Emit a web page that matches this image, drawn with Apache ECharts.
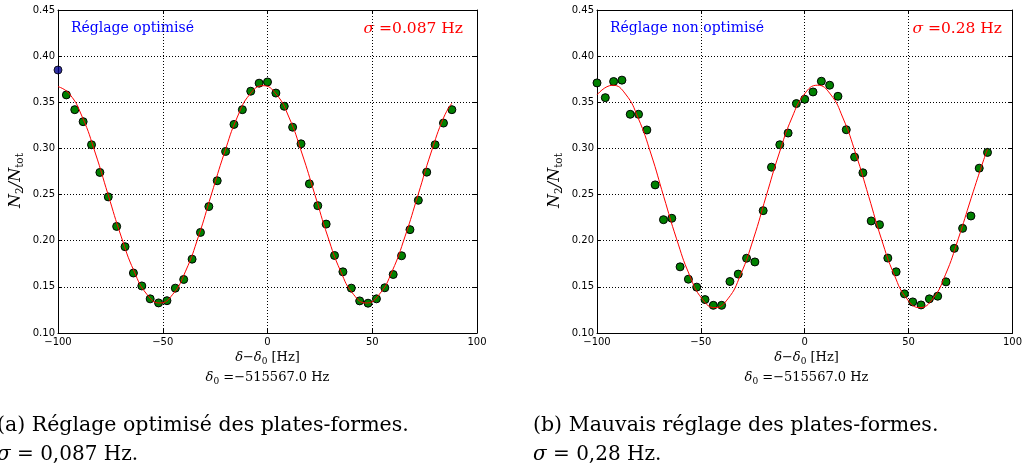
<!DOCTYPE html>
<html><head><meta charset="utf-8">
<script src="https://cdn.jsdelivr.net/npm/echarts@6/dist/echarts.min.js"></script>
<style>html,body{margin:0;padding:0;background:#fff}#c{width:1025px;height:467px}</style>
</head><body><div id="c"></div>
<script>
// ---- data ----
const leftX = [-96,-92,-88,-84,-80,-76,-72,-68,-64,-60,-56,-52,-48,-44,-40,-36,-32,-28,-24,-20,-16,-12,-8,-4,0,4,8,12,16,20,24,28,32,36,40,44,48,52,56,60,64,68,72,76,80,84,88];
const leftValues = [0.358,0.342,0.329,0.304,0.274,0.2475,0.2155,0.1935,0.165,0.151,0.137,0.1326,0.135,0.1486,0.158,0.180,0.209,0.237,0.265,0.2967,0.326,0.342,0.362,0.3707,0.372,0.360,0.3457,0.323,0.305,0.2616,0.238,0.218,0.184,0.1663,0.1486,0.1348,0.1323,0.137,0.149,0.1634,0.1837,0.212,0.2438,0.2743,0.304,0.3275,0.342];
const leftFirstPoint = [[-100, 0.385]];
const leftFitX = [-100,-94.5,-88.4,-82.2,-76.1,-69.9,-63.7,-57.6,-51.4,-45.2,-39.1,-32.9,-26.8,-20.6,-14.4,-8.3,-2.1,4.1,10.2,16.4,22.6,28.7,34.9,41.0,47.2,53.4,59.5,65.7,71.9,78.0,84.2,88];
const leftFitY = [0.367,0.359,0.334,0.295,0.250,0.205,0.167,0.142,0.1325,0.142,0.167,0.205,0.250,0.295,0.334,0.359,0.368,0.359,0.334,0.295,0.250,0.205,0.167,0.142,0.1325,0.142,0.167,0.205,0.250,0.295,0.334,0.349];

const rightX = [-100,-96,-92,-88,-84,-80,-76,-72,-68,-64,-60,-56,-52,-48,-44,-40,-36,-32,-28,-24,-20,-16,-12,-8,-4,0,4,8,12,16,20,24,28,32,36,40,44,48,52,56,60,64,68,72,76,80,84,88];
const rightValues = [0.371,0.355,0.3725,0.374,0.337,0.337,0.320,0.2605,0.2228,0.2243,0.1717,0.1583,0.1497,0.1362,0.130,0.130,0.1558,0.1638,0.181,0.177,0.2326,0.2797,0.304,0.3167,0.3486,0.3533,0.3612,0.3728,0.3685,0.3565,0.3203,0.2906,0.2736,0.2214,0.2174,0.1812,0.1663,0.1424,0.1337,0.1304,0.137,0.1399,0.1554,0.1917,0.2134,0.2268,0.2786,0.2957];
const rightFitX = [-100,-92.5,-86.3,-80.2,-74.0,-67.9,-61.7,-55.5,-49.4,-43.2,-37.0,-30.9,-24.7,-18.6,-12.4,-6.2,-0.1,6.1,12.3,18.4,24.6,30.8,36.9,43.1,49.2,55.4,61.6,67.7,73.9,80.1,86.2,88];
const rightFitY = [0.358,0.3685,0.359,0.333,0.294,0.248,0.202,0.163,0.137,0.1275,0.137,0.163,0.202,0.248,0.294,0.333,0.359,0.3685,0.359,0.333,0.294,0.248,0.202,0.163,0.137,0.1275,0.137,0.163,0.202,0.246,0.288,0.299];

const xTicks = [-100,-50,0,50,100];
const yTicks = [0.10,0.15,0.20,0.25,0.30,0.35,0.40,0.45];
const panelLabels = ['Réglage optimisé','Réglage non optimisé'];
const sigmaLabels = ['0.087','0.28'];
const captionLine1 = ['(a) Réglage optimisé des plates-formes.','(b) Mauvais réglage des plates-formes.'];
const captionSigma = ['0,087','0,28'];
const delta0 = '−515567.0';

// ---- chart ----
const chart = echarts.init(document.getElementById('c'), null, {renderer:'canvas'});
const zip = (xs, ys) => xs.map((x,i)=>[x, ys[i]]);
const grids = [{left:58, top:10, width:419, height:323},{left:597, top:10, width:419, height:323}];
const minus = v => String(v).replace('-', '\u2212');
const tickFont = {color:'#000', fontFamily:'DejaVu Sans', fontSize:10};
const serif = 'DejaVu Serif';

const xAxes = [], yAxes = [];
[0,1].forEach(g => {
  xAxes.push({type:'value', gridIndex:g, min:xTicks[0], max:xTicks[xTicks.length-1], interval:50, position:'bottom',
    axisLine:{onZero:false, lineStyle:{color:'#000', width:1}},
    axisTick:{inside:true, length:4, lineStyle:{color:'#000'}},
    axisLabel:Object.assign({margin:4, formatter:minus}, tickFont),
    splitLine:{show:true, lineStyle:{color:'#000', type:[1,2], width:1}}});
  xAxes.push({type:'value', gridIndex:g, min:xTicks[0], max:xTicks[xTicks.length-1], interval:50, position:'top',
    axisLine:{onZero:false, lineStyle:{color:'#000', width:1}},
    axisTick:{inside:true, length:4, lineStyle:{color:'#000'}},
    axisLabel:{show:false}, splitLine:{show:false}});
  yAxes.push({type:'value', gridIndex:g, min:yTicks[0], max:yTicks[yTicks.length-1], interval:0.05, position:'left',
    axisLine:{onZero:false, lineStyle:{color:'#000', width:1}},
    axisTick:{inside:true, length:4, lineStyle:{color:'#000'}},
    axisLabel:Object.assign({margin:3, formatter:v=>v.toFixed(2)}, tickFont),
    splitLine:{show:true, lineStyle:{color:'#000', type:[1,2], width:1}},
    name:'{i|N}{s|2}{i|/N}{s|tot}', nameLocation:'middle', nameRotate:90, nameGap:32,
    nameTextStyle:{color:'#000', padding:[0,18,0,0], rich:{
      i:{fontFamily:serif, fontStyle:'italic', fontSize:16, lineHeight:20, verticalAlign:'middle', color:'#000'},
      s:{fontFamily:serif, fontSize:10.5, lineHeight:20, verticalAlign:'bottom', padding:[6,0,0,0], color:'#000'}}}});
  yAxes.push({type:'value', gridIndex:g, min:yTicks[0], max:yTicks[yTicks.length-1], interval:0.05, position:'right',
    axisLine:{onZero:false, lineStyle:{color:'#000', width:1}},
    axisTick:{inside:true, length:4, lineStyle:{color:'#000'}},
    axisLabel:{show:false}, splitLine:{show:false}});
});

const scatterStyle = {color:'#008000', borderColor:'#000', borderWidth:1, opacity:1};
const series = [
  {type:'scatter', xAxisIndex:0, yAxisIndex:0, data:zip(leftX,leftValues), symbolSize:8, itemStyle:scatterStyle, z:3, clip:false},
  {type:'scatter', xAxisIndex:0, yAxisIndex:0, data:leftFirstPoint, symbolSize:8, itemStyle:{color:'#00008b', borderColor:'#000', borderWidth:1}, z:3},
  {type:'line', xAxisIndex:0, yAxisIndex:0, data:zip(leftFitX,leftFitY), smooth:0.5, showSymbol:false, symbol:'none', lineStyle:{color:'#ff0000', width:1}, z:4},
  {type:'scatter', xAxisIndex:2, yAxisIndex:2, data:zip(rightX,rightValues), symbolSize:8, itemStyle:scatterStyle, z:3, clip:false},
  {type:'line', xAxisIndex:2, yAxisIndex:2, data:zip(rightFitX,rightFitY), smooth:0.5, showSymbol:false, symbol:'none', lineStyle:{color:'#ff0000', width:1}, z:4}
];

const subRich = (size, sub) => ({
  i:{fontFamily:serif, fontStyle:'italic', fontSize:size, lineHeight:size+4, verticalAlign:'middle'},
  s:{fontFamily:serif, fontSize:sub, lineHeight:size+4, verticalAlign:'bottom', padding:[Math.round(size*0.3),0,0,0]}
});
const graphics = [];
[0,1].forEach(g => {
  const L = grids[g].left, R = grids[g].left + grids[g].width, C = (L+R)/2;
  graphics.push({type:'text', x:L+13, y:28, style:{text:panelLabels[g], font:'14px "'+serif+'"', fill:'#0000ff', verticalAlign:'middle'}});
  graphics.push({type:'text', x:R-14, y:28.5, style:{
    text:'{i|σ} ={n|'+sigmaLabels[g]+' Hz}', fill:'#ff0000', align:'right', verticalAlign:'middle',
    rich:{i:{fontFamily:serif, fontStyle:'italic', fontSize:15.5, fill:'#ff0000'}, n:{fontFamily:serif, fontSize:15.5, fill:'#ff0000'}},
    font:'15.5px "'+serif+'"'}});
  graphics.push({type:'text', x:C, y:358, style:{
    text:'{i|δ}−{i|δ}{s|0} [Hz]', align:'center', verticalAlign:'middle', font:'13px "'+serif+'"', fill:'#000',
    rich:subRich(13, 9)}});
  graphics.push({type:'text', x:C, y:378, style:{
    text:'{i|δ}{s|0} =' + delta0 + ' Hz', align:'center', verticalAlign:'middle', font:'13px "'+serif+'"', fill:'#000',
    rich:subRich(13, 9)}});
  const capX = g === 0 ? -3 : 533;
  graphics.push({type:'text', x:capX, y:436, style:{text:captionLine1[g], font:'20.5px "'+serif+'"', fill:'#000', verticalAlign:'bottom'}});
  graphics.push({type:'text', x:capX, y:465, style:{
    text:'{i|σ} = ' + captionSigma[g] + ' Hz.', font:'20px "'+serif+'"', fill:'#000', verticalAlign:'bottom',
    rich:{i:{fontFamily:serif, fontStyle:'italic', fontSize:20}}}});
});

chart.setOption({
  animation:false,
  backgroundColor:'#fff',
  grid:grids,
  xAxis:xAxes,
  yAxis:yAxes,
  series:series,
  graphic:graphics
});
</script></body></html>
